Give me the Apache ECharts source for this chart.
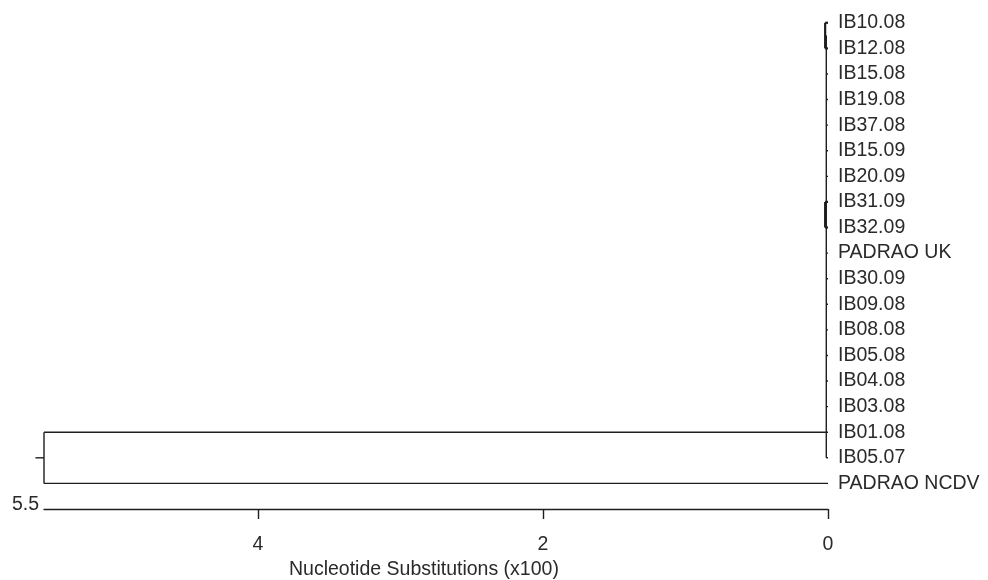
<!DOCTYPE html>
<html>
<head>
<meta charset="utf-8">
<script src="https://cdn.jsdelivr.net/npm/echarts@6/dist/echarts.min.js"></script>
<style>
  html, body { margin: 0; padding: 0; background: #fff; }
  #chart { width: 988px; height: 580px; }
</style>
</head>
<body>
<div id="chart"></div>
<script>
// Taxa, top to bottom
const leafNames = [
  'IB10.08', 'IB12.08', 'IB15.08', 'IB19.08', 'IB37.08', 'IB15.09', 'IB20.09',
  'IB31.09', 'IB32.09', 'PADRAO UK', 'IB30.09', 'IB09.08', 'IB08.08', 'IB05.08',
  'IB04.08', 'IB03.08', 'IB01.08', 'IB05.07', 'PADRAO NCDV'
];
// Tip heights (nucleotide substitutions x100)
const leafHeights = leafNames.map(() => 0);

// Internal nodes of the tree
const nodeNames    = ['IB10-12', 'IB31-32', 'IB', 'root'];
const nodeHeights  = [0.02, 0.02, 0.012, 5.5];
const nodeRows     = [0.5, 7.5, 16, 17];
const nodeChildren = [
  [0, 1],
  [7, 8],
  ['IB10-12', 2, 3, 4, 5, 6, 'IB31-32', 9, 10, 11, 12, 13, 14, 15, 16, 17],
  ['IB', 18]
];
const rootStubLength = 0.06;

// Scale
const axisMin = 0;
const axisMax = 5.5;
const tickValues = [0, 2, 4];

// Build the branch segments [x1, y1, x2, y2, nodeIndex]
function childPos(c) {
  if (typeof c === 'number') return [leafHeights[c], c];
  const k = nodeNames.indexOf(c);
  return [nodeHeights[k], nodeRows[k]];
}
const segments = [];
nodeNames.forEach((name, k) => {
  const h = nodeHeights[k];
  const rows = [];
  nodeChildren[k].forEach(c => {
    const [ch, cr] = childPos(c);
    segments.push([ch, cr, h, cr, k]);
    rows.push(cr);
  });
  segments.push([h, Math.min(...rows), h, Math.max(...rows), k]);
  if (name === 'root') segments.push([h, nodeRows[k], h + rootStubLength, nodeRows[k], k]);
});

const FONT = '"Liberation Sans", Arial, sans-serif';
const FS = 19.5;
const INK = '#1e1e1e';
const TEXT = '#2a2a2a';

const chart = echarts.init(document.getElementById('chart'), null, { renderer: 'canvas' });
chart.setOption({
  animation: false,
  backgroundColor: '#fff',
  title: {
    text: 'Nucleotide Substitutions (x100)',
    left: 289,
    top: 560,
    padding: 0,
    textStyle: { fontFamily: FONT, fontSize: FS, fontWeight: 'normal', color: TEXT }
  },
  grid: { left: 44, right: 160, top: 10, bottom: 71, containLabel: false },
  xAxis: {
    type: 'value',
    min: axisMin,
    max: axisMax,
    interval: 2,
    inverse: true,
    position: 'bottom',
    name: String(axisMax),
    nameLocation: 'end',
    nameGap: 5,
    nameTextStyle: {
      fontFamily: FONT, fontSize: FS, color: TEXT,
      verticalAlign: 'bottom', align: 'right', lineHeight: 9
    },
    splitLine: { show: false },
    axisLine: { show: true, onZero: false, lineStyle: { color: INK, width: 1.4 } },
    axisTick: { show: true, length: 10, customValues: tickValues, lineStyle: { color: INK, width: 1.4 } },
    axisLabel: {
      customValues: tickValues,
      margin: 26,
      fontFamily: FONT, fontSize: FS, color: TEXT,
      formatter: v => (tickValues.includes(v) ? String(v) : '')
    }
  },
  yAxis: {
    type: 'value',
    min: -0.5,
    max: 19,
    inverse: true,
    show: false
  },
  series: [
    {
      type: 'custom',
      clip: false,
      silent: true,
      data: segments,
      encode: { x: [0, 2], y: [1, 3] },
      renderItem: (params, api) => {
        const p1 = api.coord([api.value(0), api.value(1)]);
        const p2 = api.coord([api.value(2), api.value(3)]);
        const k = api.value(4);
        const thick = nodeNames[k] === 'IB10-12' || nodeNames[k] === 'IB31-32';
        return {
          type: 'line',
          shape: { x1: p1[0], y1: p1[1], x2: p2[0], y2: p2[1] },
          style: { stroke: INK, lineWidth: thick ? 2.2 : 1.4 }
        };
      }
    },
    {
      type: 'scatter',
      silent: true,
      symbolSize: 0,
      itemStyle: { opacity: 1 },
      data: leafNames.map((n, i) => [leafHeights[i], i, n]),
      label: {
        show: true,
        position: 'right',
        distance: 10,
        formatter: p => p.data[2],
        fontFamily: FONT,
        fontSize: FS,
        color: TEXT,
        opacity: 1
      }
    }
  ]
});
</script>
</body>
</html>
